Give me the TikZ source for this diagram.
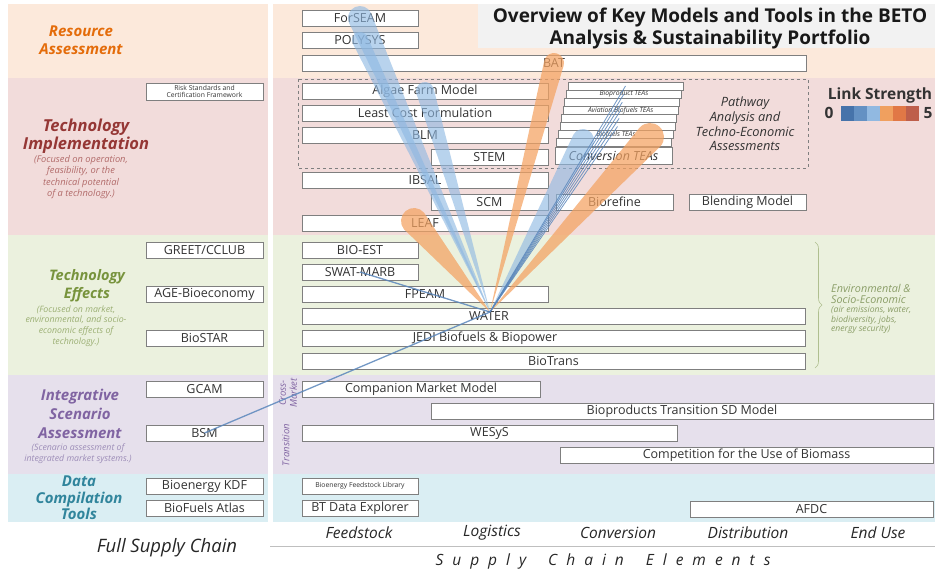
\documentclass[tikz,border=0pt]{standalone}
\usepackage{fontspec}
\setmainfont{Open Sans}
\usetikzlibrary{calc,decorations.pathreplacing}

\definecolor{resbg}{HTML}{FCE9DB}
\definecolor{implbg}{HTML}{F2DCDB}
\definecolor{effbg}{HTML}{EBF1DE}
\definecolor{intbg}{HTML}{E6E0EC}
\definecolor{databg}{HTML}{DAEEF3}
\definecolor{titlebg}{HTML}{F2F2F2}
\definecolor{boxline}{HTML}{7F7F7F}
\definecolor{boxtext}{HTML}{333333}
\definecolor{resfg}{HTML}{E46C0A}
\definecolor{implfg}{HTML}{953735}
\definecolor{impldesc}{HTML}{B26B6A}
\definecolor{efffg}{HTML}{77933C}
\definecolor{effdesc}{HTML}{9BAF73}
\definecolor{intfg}{HTML}{8064A2}
\definecolor{intdesc}{HTML}{9D8DB8}
\definecolor{datafg}{HTML}{31859C}
\definecolor{fanblue}{HTML}{8EB8E2}
\definecolor{fanorange}{HTML}{F4A261}
\definecolor{linkblue}{HTML}{5B87BC}
\definecolor{lsa}{HTML}{4673AA}
\definecolor{lsb}{HTML}{6491C3}
\definecolor{lsc}{HTML}{91B9E1}
\definecolor{lsd}{HTML}{F0A05F}
\definecolor{lse}{HTML}{E17846}
\definecolor{lsf}{HTML}{BE5F4B}

\newcommand\fsz[2]{\fontsize{#1}{#2}\selectfont}
\newcommand\sgap{\hspace{9pt}}
\newcommand\wgap{\hspace{22pt}}
% tapered link from the WATER hub to a model
\newcommand\linkfan[3]{%
 \fill[#1] let \p1=(hub), \p2=(#2), \n1={atan2(\y2-\y1,\x2-\x1)} in
 (hub) -- ($(\p2)+(\n1+90:#3pt)$) arc[start angle=\n1+90,delta angle=-180,radius=#3pt] -- cycle;}

\begin{document}
\begin{tikzpicture}[x=1pt,y=-1pt,
 model/.style={draw=boxline,fill=white,line width=0.7pt,minimum height=16pt,inner sep=0pt,text=boxtext,font=\fsz{12.5}{14}},
 lefthead/.style={align=center,font=\fsz{15}{18}\bfseries\itshape},
 leftnote/.style={align=center,font=\fsz{9.3}{11.3}\itshape},
 stage/.style={font=\fsz{15.5}{17}\itshape,text=black!85},
 bluefan/.style={fill=fanblue,fill opacity=0.62},
 orangefan/.style={fill=fanorange,fill opacity=0.72},
 thinlink/.style={draw=linkblue,line width=0.8pt,draw opacity=0.85}]

\useasboundingbox (0,0) rectangle (935,572);

% background bands
\foreach \c/\ya/\yb in {resbg/4/78,implbg/78/235,effbg/235/375,intbg/375/474,databg/474/522}{
 \fill[\c] (8,\ya) rectangle (268,\yb);
 \fill[\c] (273,\ya) rectangle (935,\yb);}
\fill[titlebg] (478,4) rectangle (935,48);
\node[font=\fsz{19}{22}\bfseries,align=center,text=black!90] (title) at (710,29)
 {Overview of Key Models and Tools in the BETO\\Analysis \& Sustainability Portfolio};

% row headings
\node[lefthead,text=resfg] (reshead) at (81,40) {Resource\\Assessment};
\node[lefthead,text=implfg,font=\fsz{16.5}{18.5}\bfseries\itshape] (implhead) at (86,136) {Technology\\Implementation};
\node[leftnote,text=impldesc] (implnote) at (81,177) {(Focused on operation,\\feasibility, or the\\technical potential\\of a technology.)};
\node[lefthead,text=efffg,font=\fsz{14.5}{18}\bfseries\itshape] (effhead) at (87,286) {Technology\\Effects};
\node[leftnote,text=effdesc,font=\fsz{8.8}{10.7}\itshape] (effnote) at (76,326) {(Focused on market,\\environmental, and socio-\\economic effects of\\technology.)};
\node[lefthead,text=intfg,font=\fsz{15}{19}\bfseries\itshape] (inthead) at (80,414) {Integrative\\Scenario\\Assessment};
\node[leftnote,text=intdesc,font=\fsz{8.8}{11}\itshape] (intnote) at (78,454) {(Scenario assessment of\\integrated market systems.)};
\node[lefthead,text=datafg,font=\fsz{15}{16.5}\bfseries\itshape] (datahead) at (79,498) {Data\\Compilation\\Tools};

% resource assessment
\node[model,minimum width=116pt] (forseam) at (360,18) {ForSEAM};
\node[model,minimum width=116pt] (polysys) at (360,40) {POLYSYS};
\node[model,minimum width=504pt] (bat) at (554,63) {BAT};

% technology implementation
\draw[boxline,dashed,line width=0.8pt] (298,79) rectangle (808,168);
\node[model,minimum width=117pt,minimum height=17pt,font=\fsz{6.8}{7.8},align=center] (risk) at (204.5,91.5) {Risk Standards and\\Certification Framework};
\node[model,minimum width=246pt] (algae) at (425,91) {Algae Farm Model};
\node[model,minimum width=246pt] (lcf) at (425,113) {Least Cost Formulation};
\node[model,minimum width=246pt] (blm) at (425,135) {BLM};
\node[model,minimum width=117pt] (stem) at (489.5,157) {STEM};
\node[model,minimum width=246pt] (ibsal) at (425,180) {IBSAL};
\node[model,minimum width=117pt] (scm) at (489.5,202) {SCM};
\node[model,minimum width=246pt] (leaf) at (425,223) {LEAF};
\foreach \i/\tea in {0/,1/Bioproduct TEAs,2/,3/Aviation Biofuels TEAs,4/,5/,6/Biofuels TEAs,7/}
 \node[model,minimum width=115pt,minimum height=8.1pt,font=\fsz{6.8}{7}\itshape] (tea\i) at ({625.5-1.6*\i},{86+8.1*\i}) {\tea};
\node[model,minimum width=117pt,minimum height=17pt,font=\fsz{12.5}{14}\itshape] (convtea) at (613.5,155.5) {Conversion TEAs};
\node[font=\fsz{12.8}{14.7}\itshape,align=center,text=boxtext] (pathway) at (745,124) {Pathway\\Analysis and\\Techno-Economic\\Assessments};
\node[model,minimum width=117pt] (biorefine) at (614.5,202) {Biorefine};
\node[model,minimum width=117pt] (blending) at (747.5,202) {Blending Model};

% link strength legend
\node[font=\fsz{15.5}{17}\bfseries,text=black!80] (linkstr) at (880,95) {Link Strength};
\node[font=\fsz{15.5}{17}\bfseries,text=black!80] (lszero) at (829,113) {0};
\foreach \c [count=\i] in {lsa,lsb,lsc,lsd,lse,lsf}
 \node[fill=\c,minimum width=13pt,minimum height=15pt,inner sep=0pt] (bar\i) at ({834.5+13*\i},113.5) {};
\node[font=\fsz{15.5}{17}\bfseries,text=black!80] (lsfive) at (928,113) {5};

% technology effects
\node[model,minimum width=117pt] (greet) at (204.5,250) {GREET/CCLUB};
\node[model,minimum width=117pt] (age) at (204.5,294) {AGE-Bioeconomy};
\node[model,minimum width=117pt] (biostar) at (204.5,338) {BioSTAR};
\node[model,minimum width=116pt] (bioest) at (360,250) {BIO-EST};
\node[model,minimum width=116pt] (swat) at (360,272) {SWAT-MARB};
\node[model,minimum width=246pt] (fpeam) at (425,294) {FPEAM};
\node[model,minimum width=503pt] (water) at (553.5,316.5) {};
\node[text=boxtext,font=\fsz{12.5}{14}] (watert) at (489,316.5) {WATER};
\node[model,minimum width=503pt] (jedi) at (553.5,338.5) {};
\node[text=boxtext,font=\fsz{12.5}{14}] (jedit) at (485,338.5) {JEDI Biofuels \& Biopower};
\node[model,minimum width=503pt] (biotrans) at (553.5,361) {BioTrans};
\draw[effdesc!80,line width=0.6pt,decorate,decoration={brace,amplitude=7pt}] (815,242) -- (815,368);
\node[anchor=west,align=left,inner sep=0pt,font=\fsz{10.8}{11.5}\itshape,text=effdesc!90!black] (envhead) at (831,294) {Environmental \&\\Socio-Economic};
\node[anchor=west,align=left,inner sep=0pt,font=\fsz{8.6}{9.3}\itshape,text=effdesc!90!black] (envnote) at (831,320) {(air emissions, water,\\biodiversity, jobs,\\energy security)};

% integrative scenario assessment
\node[model,minimum width=117pt] (gcam) at (204.5,389) {GCAM};
\node[model,minimum width=117pt] (bsm) at (204.5,433) {BSM};
\node[rotate=90,align=center,font=\fsz{9.5}{11}\itshape,text=intfg] (crossmkt) at (288,393) {Cross-\\Market};
\node[rotate=90,font=\fsz{9.5}{11}\itshape,text=intfg] (transit) at (286,445) {Transition};
\node[model,minimum width=238pt] (cmm) at (421,389) {Companion Market Model};
\node[model,minimum width=502pt] (bptsd) at (682,411) {Bioproducts Transition SD Model};
\node[model,minimum width=375pt] (wesys) at (489.5,433) {WESyS};
\node[model,minimum width=373pt] (cub) at (746.5,455.5) {Competition for the Use of Biomass};

% data compilation tools
\node[model,minimum width=117pt] (kdf) at (204.5,486) {Bioenergy KDF};
\node[model,minimum width=117pt] (atlas) at (204.5,508) {BioFuels Atlas};
\node[model,minimum width=116pt,font=\fsz{6.8}{7.5}] (bfl) at (360,486) {Bioenergy Feedstock Library};
\node[model,minimum width=116pt] (btde) at (360,508) {BT Data Explorer};
\node[model,minimum width=243pt] (afdc) at (811.5,509) {AFDC};

% links from WATER
\coordinate (hub) at (490,312);
\coordinate (leafend) at (414,221);
\coordinate (convorange) at (650,137);
\coordinate (convblue) at (583,140);
\linkfan{bluefan}{forseam.center}{12}
\linkfan{bluefan}{polysys.center}{8}
\linkfan{bluefan}{algae.center}{9}
\linkfan{bluefan}{convblue}{11}
\linkfan{orangefan}{bat.center}{10}
\linkfan{orangefan}{leafend}{13}
\linkfan{orangefan}{convorange}{14}
\foreach \i in {0,...,5}
 \draw[thinlink] (hub) -- (tea\i.center);
\draw[thinlink,line width=1.3pt] (hub) -- (swat.center);
\draw[thinlink,line width=1.3pt] (hub) -- (bsm.center);

% supply chain axis
\node[font=\fsz{18.5}{20}\itshape,text=black!85] (fullsc) at (167,548) {Full Supply Chain};
\node[stage] (feed) at (359,533) {Feedstock};
\node[stage] (logi) at (492,533) {Logistics};
\node[stage] (conv) at (618,533) {Conversion};
\node[stage] (dist) at (748,533) {Distribution};
\node[stage] (enduse) at (878,533) {End Use};
\draw[black!25,line width=0.8pt] (270,546) -- (935,546);
\node[stage] (elements) at (603,561) {S\sgap u\sgap p\sgap p\sgap l\sgap y\wgap C\sgap h\sgap a\sgap i\sgap n\wgap E\sgap l\sgap e\sgap m\sgap e\sgap n\sgap t\sgap s};
\end{tikzpicture}
\end{document}
